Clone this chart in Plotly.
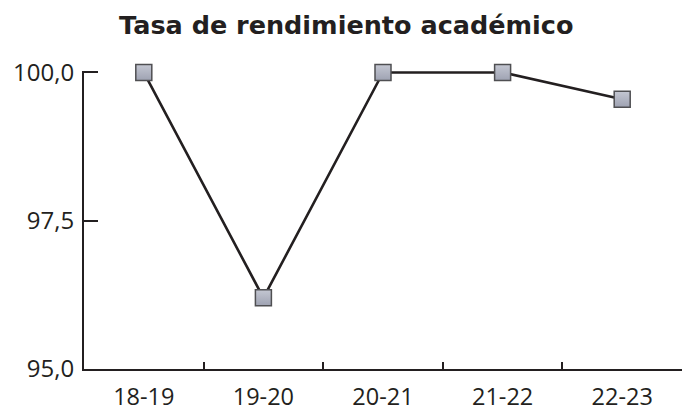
import plotly.graph_objects as go

categories = ["18-19", "19-20", "20-21", "21-22", "22-23"]
values = [100.0, 96.2, 100.0, 100.0, 99.55]
y_ticks = [95.0, 97.5, 100.0]
title_text = "Tasa de rendimiento académico"

ink = "#231f20"

fig = go.Figure()
fig.add_trace(go.Scatter(
    x=categories, y=values, mode="lines+markers",
    line=dict(color=ink, width=2.6),
    marker=dict(symbol="square", size=16,
                color="#c4c7d2",
                gradient=dict(type="vertical", color="#9ea2b2"),
                line=dict(color="#4f4f52", width=1.5)),
    cliponaxis=False, showlegend=False,
))

fig.update_layout(
    width=683, height=413,
    margin=dict(l=84, r=1, t=71, b=44),
    paper_bgcolor="white", plot_bgcolor="white",
    separators=",.",
    font=dict(family="Open Sans", color=ink, size=24),
    title=dict(text="<b>" + title_text + "</b>", x=0.507, xref="container", xanchor="center",
               y=1 - 25 / 413, yref="container", yanchor="middle",
               font=dict(family="DejaVu Sans", size=25.5, color=ink)),
)
fig.update_xaxes(
    type="category", range=[-0.5, 4.5], automargin=False,
    showline=True, linecolor=ink, linewidth=2,
    ticks="inside", tickson="boundaries", ticklen=7, tickwidth=2, tickcolor=ink,
    showgrid=False, zeroline=False,
    ticklabelstandoff=6,
    tickfont=dict(size=23.5, family="Open Sans", color=ink),
)
fig.update_yaxes(
    range=[95, 100.025], tickvals=y_ticks, tickformat=".1f", automargin=False,
    showline=True, linecolor=ink, linewidth=2,
    ticks="inside", ticklen=14, tickwidth=2, tickcolor=ink,
    showgrid=False, zeroline=False,
    ticklabelstandoff=3,
    tickfont=dict(size=24, family="Open Sans", color=ink),
)

fig.write_html("out.html", config={"displayModeBar": False},
               post_script="document.body.style.margin='0';")
